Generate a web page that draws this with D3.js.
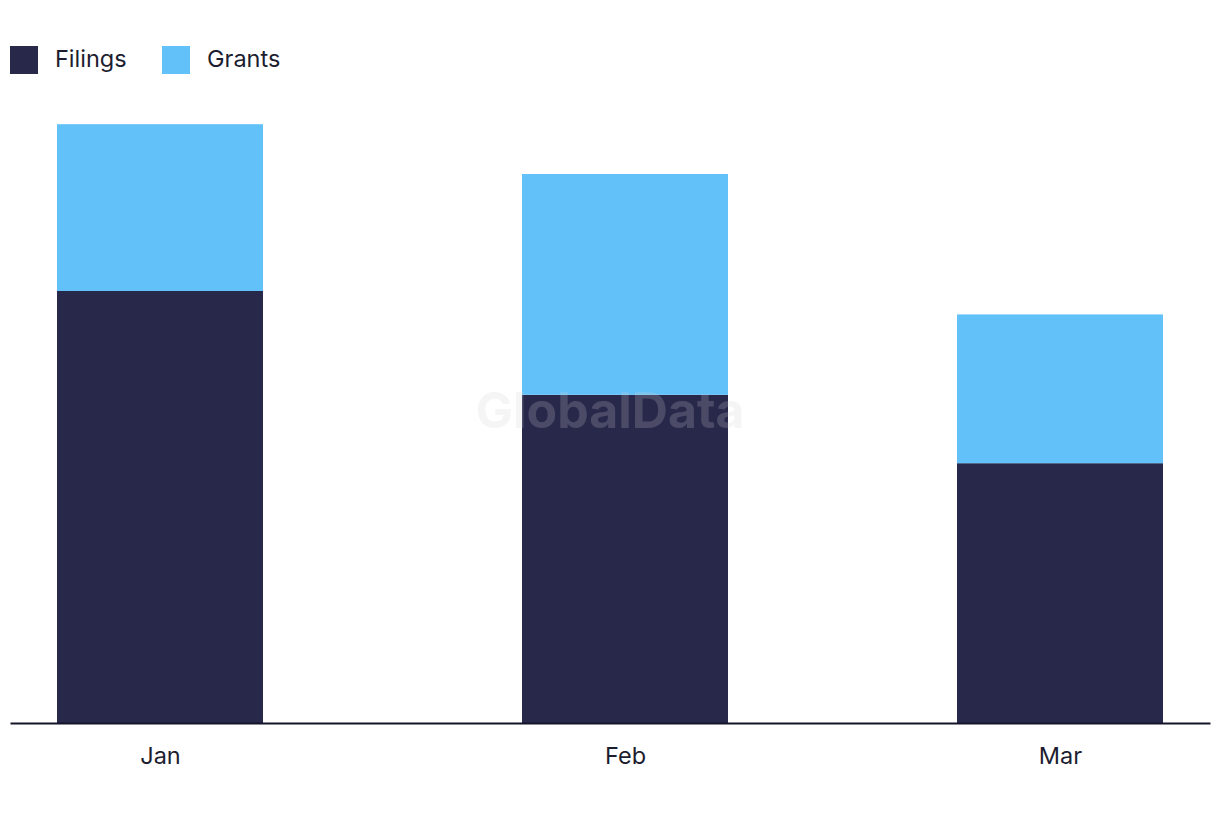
<!DOCTYPE html>
<html>
<head>
<meta charset="utf-8">
<script src="https://cdn.jsdelivr.net/npm/d3@7"></script>
<style>
  html, body { margin: 0; padding: 0; background: #ffffff; }
  svg { display: block; font-family: "Inter", "Noto Sans", sans-serif; }
</style>
</head>
<body>
<svg id="chart" width="1220" height="822"></svg>
<script>
// ---- data ----
const months = ["2024-01-01", "2024-02-01", "2024-03-01"];
const monthLabels = ["Jan", "Feb", "Mar"];
const filings = [72, 54.7, 43.3];
const grants = [27.8, 36.8, 24.8];
const seriesNames = ["Filings", "Grants"];
const seriesColors = ["#28284b", "#62c1f9"];

// ---- layout ----
const baseY = 723;
const svg = d3.select("#chart");
const parse = d3.timeParse("%Y-%m-%d");
const dates = months.map(parse);

const x = d3.scaleTime()
  .domain([parse("2023-12-22"), parse("2024-03-11")])
  .range([10, 1210]);
const y = d3.scaleLinear().domain([0, 100]).range([baseY, 123]);
const barW = 206;

const rows = dates.map((d, i) => ({ date: d, label: monthLabels[i], Filings: filings[i], Grants: grants[i] }));
const stack = d3.stack().keys(seriesNames)(rows);
const color = d3.scaleOrdinal().domain(seriesNames).range(seriesColors);

// bars
svg.append("g").selectAll("g")
  .data(stack).join("g")
  .attr("fill", s => color(s.key))
  .selectAll("rect")
  .data(s => s).join("rect")
  .attr("x", d => x(d.data.date) - barW / 2)
  .attr("width", barW)
  .attr("y", d => y(d[1]))
  .attr("height", d => y(d[0]) - y(d[1]));

// watermark
svg.append("text")
  .attr("x", 610).attr("y", 428)
  .attr("text-anchor", "middle")
  .attr("font-size", 50).attr("font-weight", 700)
  .attr("fill", "rgb(207,207,212)").attr("fill-opacity", 0.21)
  .text("GlobalData");

// x axis
const xAxis = d3.axisBottom(x)
  .tickValues(dates)
  .tickFormat((d, i) => monthLabels[i])
  .tickSize(0)
  .tickPadding(24);
const gx = svg.append("g").attr("transform", `translate(0,${baseY})`).call(xAxis);
gx.select(".domain").attr("stroke", "#15152a").attr("stroke-width", 2);
gx.selectAll("text")
  .attr("font-family", "Inter, 'Noto Sans', sans-serif")
  .attr("font-size", 23.5).attr("fill", "#1d1d30");

// legend
const legend = svg.append("g").attr("transform", "translate(10,46)");
const legX = [0, 152];
seriesNames.forEach((name, i) => {
  const g = legend.append("g").attr("transform", `translate(${legX[i]},0)`);
  g.append("rect").attr("width", 28).attr("height", 28).attr("fill", color(name));
  g.append("text").attr("x", 45).attr("y", 20.5)
    .attr("font-size", 23.5).attr("fill", "#1d1d30")
    .text(name);
});
</script>
</body>
</html>
